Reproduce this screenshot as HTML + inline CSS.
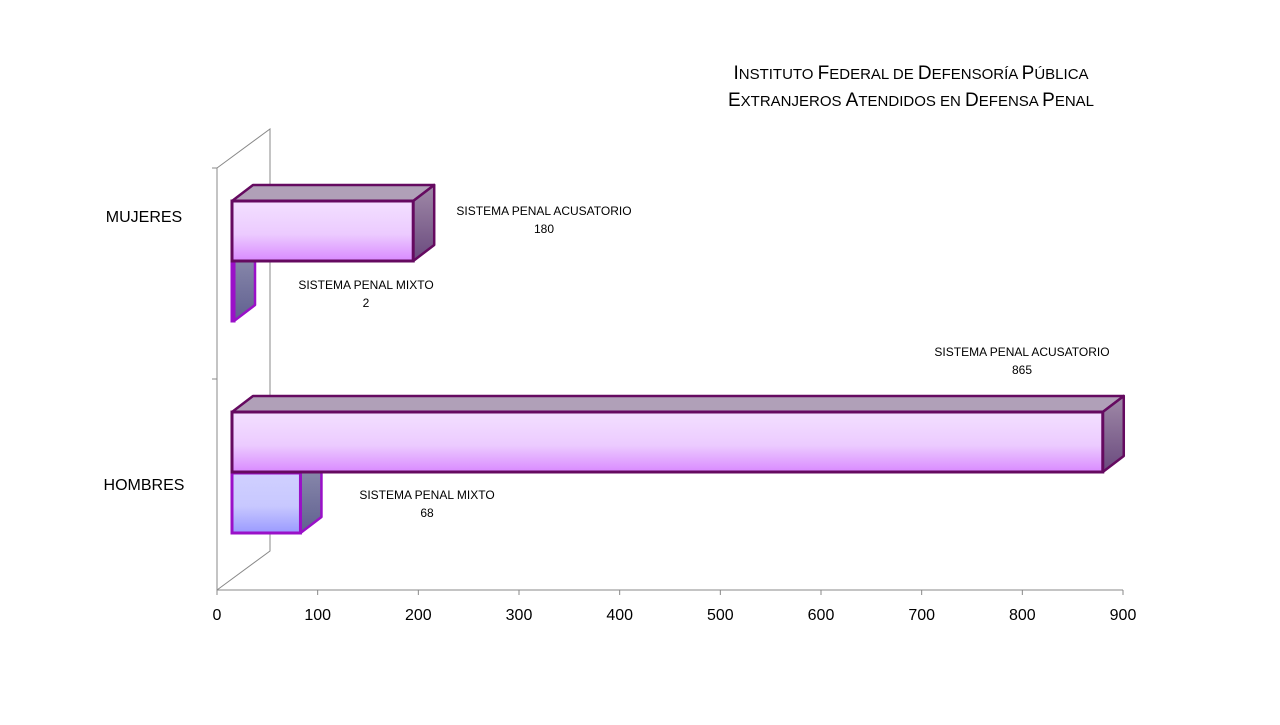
<!DOCTYPE html>
<html><head><meta charset="utf-8"><style>
body{margin:0;background:#fff;width:1280px;height:720px;overflow:hidden;font-family:"Liberation Sans",sans-serif}
</style></head><body>
<svg id="c" width="1280" height="720" xmlns="http://www.w3.org/2000/svg">
<defs>
<linearGradient id="gA" x1="0" y1="0" x2="0" y2="1"><stop offset="0" stop-color="#f3e0ff"/><stop offset="0.55" stop-color="#eccbff"/><stop offset="1" stop-color="#d98aff"/></linearGradient>
<linearGradient id="gM" x1="0" y1="0" x2="0" y2="1"><stop offset="0" stop-color="#d0d0ff"/><stop offset="0.55" stop-color="#c8c8ff"/><stop offset="1" stop-color="#9a9aff"/></linearGradient>
<linearGradient id="gS" x1="0" y1="0" x2="0" y2="1"><stop offset="0" stop-color="#a08aa8"/><stop offset="1" stop-color="#6a4a7e"/></linearGradient>
<linearGradient id="gS2" x1="0" y1="0" x2="0" y2="1"><stop offset="0" stop-color="#9090b0"/><stop offset="1" stop-color="#606090"/></linearGradient>
</defs>
<text x="911" y="79" text-anchor="middle" font-size="15" fill="#000"><tspan font-size="19">I</tspan>NSTITUTO <tspan font-size="19">F</tspan>EDERAL DE <tspan font-size="19">D</tspan>EFENSORÍA <tspan font-size="19">P</tspan>ÚBLICA</text>
<text x="911" y="106" text-anchor="middle" font-size="15" fill="#000"><tspan font-size="19">E</tspan>XTRANJEROS  <tspan font-size="19">A</tspan>TENDIDOS EN <tspan font-size="19">D</tspan>EFENSA <tspan font-size="19">P</tspan>ENAL</text>
<g id="axes"></g>
<g id="bars"></g>
</svg>
<script>
const categories=["MUJERES","HOMBRES"];
const series=["SISTEMA PENAL ACUSATORIO","SISTEMA PENAL MIXTO"];
const acusatorio=[180,865];
const mixto=[2,68];
const ticks=[0,100,200,300,400,500,600,700,800,900];
const NS="http://www.w3.org/2000/svg";
const X0=217,X1=1123,VMAX=900,FLOOR=590,TOP=168,DX=53,DY=-39;
const labelY=[222,490];
const bx=v=>X0+15+(v/VMAX)*(X1-X0);
const axes=document.getElementById('axes'),bars=document.getElementById('bars');
function el(t,a,p){const e=document.createElementNS(NS,t);for(const k in a)e.setAttribute(k,a[k]);p.appendChild(e);return e;}
const L={stroke:"#888","stroke-width":1,fill:"none"};
let e;
e=el('path',Object.assign({d:`M${X0},${TOP} L${X0},${FLOOR} L${X1},${FLOOR} M${X0},${FLOOR} L${X0+DX},${FLOOR+DY} L${X0+DX},${TOP+DY} L${X0},${TOP}`},L),axes);


const catH=(FLOOR-TOP)/categories.length;
categories.forEach((c,i)=>{
 e=el('line',Object.assign({x1:X0-5,x2:X0,y1:TOP+catH*i,y2:TOP+catH*i},L),axes);
 
 
 e=el('text',{x:144,y:labelY[i],"text-anchor":"middle","font-size":16},axes);e.textContent=c;
 
 
});
ticks.forEach(t=>{
 const x=X0+(t/VMAX)*(X1-X0);
 e=el('line',Object.assign({x1:x,x2:x,y1:FLOOR,y2:FLOOR+5},L),axes);
 
 
 e=el('text',{x:x,y:FLOOR+30,"text-anchor":"middle","font-size":16},axes);e.textContent=t;
 
 
});
const d=21,dy=-16,H=60;
function bar(v,y,fill,side,stroke,name,lbl,lx,ly){
 const x0=bx(0),x1=bx(v);
 const g=el('g',{},bars);
 
 
 el('path',{d:`M${x0},${y} L${x0+d},${y+dy} L${x1+d},${y+dy} L${x1},${y} Z`,fill:"#b0a0b8",stroke,"stroke-width":2.5,"stroke-linejoin":"round"},g);
 el('path',{d:`M${x1},${y} L${x1+d},${y+dy} L${x1+d},${y+H+dy} L${x1},${y+H} Z`,fill:side,stroke,"stroke-width":2.5,"stroke-linejoin":"round"},g);
 el('rect',{x:x0,y:y,width:x1-x0,height:H,fill,stroke,"stroke-width":3},g);
 let t=el('text',{x:lx,y:ly,"text-anchor":"middle","font-size":12},g);t.textContent=lbl;
 t=el('text',{x:lx,y:ly+18,"text-anchor":"middle","font-size":12},g);t.textContent=v;
}
bar(mixto[0],261,"url(#gM)","url(#gS2)","#9a10c8","bar-mujeres-mixto",series[1],366,289);
bar(acusatorio[0],201,"url(#gA)","url(#gS)","#650a60","bar-mujeres-acusatorio",series[0],544,215);
bar(mixto[1],473,"url(#gM)","url(#gS2)","#9a10c8","bar-hombres-mixto",series[1],427,499);
bar(acusatorio[1],412,"url(#gA)","url(#gS)","#650a60","bar-hombres-acusatorio",series[0],1022,356);
</script>
</body></html>
